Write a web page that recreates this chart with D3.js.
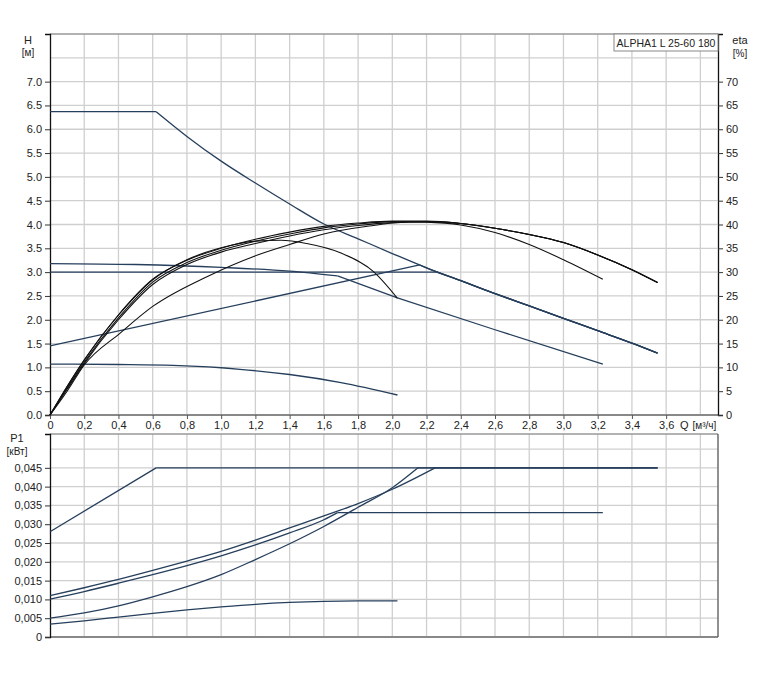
<!DOCTYPE html>
<meta charset="utf-8">
<script src="https://d3js.org/d3.v7.min.js"></script>
<body style="margin:0;background:#fff">
    <div id="viz"></div>
</body>
<style>
    text { font-family: "Liberation Sans", Arial, sans-serif; font-size: 11px; fill: #222; }
</style>
<script>
    // ---- data ----
    const qTicks = [0, 0.2, 0.4, 0.6, 0.8, 1.0, 1.2, 1.4, 1.6, 1.8, 2.0, 2.2, 2.4, 2.6, 2.8, 3.0, 3.2, 3.4, 3.6];
    const qGrid = [0.2, 0.4, 0.6, 0.8, 1.0, 1.2, 1.4, 1.6, 1.8, 2.0, 2.2, 2.4, 2.6, 2.8, 3.0, 3.2, 3.4, 3.6, 3.8];
    const hTicks = [0, 0.5, 1, 1.5, 2, 2.5, 3, 3.5, 4, 4.5, 5, 5.5, 6, 6.5, 7];
    const hGrid = [0.5, 1, 1.5, 2, 2.5, 3, 3.5, 4, 4.5, 5, 5.5, 6, 6.5, 7, 7.5];
    const etaTicks = [0, 5, 10, 15, 20, 25, 30, 35, 40, 45, 50, 55, 60, 65, 70];
    const pTicks = [0, 0.005, 0.010, 0.015, 0.020, 0.025, 0.030, 0.035, 0.040, 0.045];
    const pGrid = [0.005, 0.010, 0.015, 0.020, 0.025, 0.030, 0.035, 0.040, 0.045, 0.050];

    // H curves [Q, H] – each curve is a list of segments (kinks between segments)
    const maxTail = [[2.4, 2.82], [2.6, 2.55], [2.8, 2.29], [3.0, 2.03], [3.2, 1.77], [3.4, 1.51], [3.55, 1.30]];
    const hMax = [
        [[0, 6.37], [0.62, 6.37]],
        [[0.62, 6.37], [0.8, 5.85], [1.0, 5.33], [1.2, 4.87], [1.4, 4.43], [1.6, 4.01], [1.8, 3.70], [2.0, 3.39], [2.2, 3.09]].concat(maxTail)
    ];
    const hConst = [
        [[0, 3.0], [2.26, 3.0]],
        [[2.26, 3.0]].concat(maxTail)
    ];
    const hProp = [
        [[0, 1.45], [2.16, 3.15]],
        [[2.16, 3.15], [2.2, 3.09]].concat(maxTail)
    ];
    const hMid = [
        [[0, 3.18], [0.5, 3.16], [1.0, 3.10], [1.4, 3.02], [1.68, 2.92]],
        [[1.68, 2.92], [2.03, 2.46]],
        [[2.03, 2.46], [2.6, 1.79], [3.23, 1.07]]
    ];
    const hLow = [
        [[0, 1.07], [0.4, 1.06], [0.72, 1.04], [1.11, 0.96], [1.4, 0.85], [1.7, 0.68], [2.03, 0.42]]
    ];

    // eta curves [Q, %]
    const etaTail = [[2.4, 40.2], [2.6, 39.2], [2.8, 37.9], [3.0, 36.2], [3.2, 33.6], [3.4, 30.5], [3.55, 27.8]];
    const etaMax = [[0, 0], [0.1, 6], [0.2, 11.5], [0.4, 21], [0.6, 28.5], [0.8, 32.5], [1.0, 35], [1.2, 36.9], [1.4, 38.4], [1.6, 39.6], [1.8, 40.3], [2.0, 40.7], [2.2, 40.7]].concat(etaTail);
    const etaConst = [[0, 0], [0.1, 5.4], [0.2, 10.8], [0.4, 20.0], [0.6, 27.4], [0.8, 31.6], [1.0, 34.2], [1.2, 36.0], [1.4, 37.6], [1.6, 38.9], [1.8, 39.8], [2.0, 40.4], [2.2, 40.6]].concat(etaTail);
    const etaProp = [[0, 0], [0.1, 5], [0.2, 10.5], [0.41, 17.2], [0.6, 22.8], [0.92, 29.1], [1.19, 33.3], [1.4, 35.8], [1.6, 38.0], [1.89, 39.8], [2.0, 40.3], [2.2, 40.6]].concat(etaTail);
    const etaMid = [[0, 0], [0.1, 5.7], [0.2, 11.1], [0.4, 20.4], [0.6, 27.9], [0.8, 32.0], [1.0, 34.6], [1.2, 36.5], [1.4, 38.0], [1.6, 39.3], [1.8, 40.1], [2.0, 40.6], [2.2, 40.5], [2.4, 39.9], [2.6, 38.3], [2.8, 35.8], [3.0, 32.6], [3.23, 28.5]];
    const etaLow = [[0, 0], [0.1, 6], [0.2, 11.6], [0.4, 21.0], [0.6, 28.4], [0.8, 32.6], [1.0, 35.1], [1.2, 36.5], [1.35, 36.7], [1.5, 36.0], [1.7, 34.0], [1.89, 30.1], [2.03, 24.5]];

    // P1 curves [Q, kW]
    const pMax = [
        [[0, 0.028], [0.62, 0.045]],
        [[0.62, 0.045], [3.55, 0.045]]
    ];
    const pConst = [
        [[0, 0.0110], [0.2, 0.0131], [0.4, 0.0153], [0.6, 0.0177], [0.8, 0.0202], [1.0, 0.0228], [1.2, 0.0258], [1.4, 0.0290], [1.6, 0.0322], [1.8, 0.0355], [2.0, 0.0393], [2.25, 0.0450]],
        [[2.25, 0.045], [3.55, 0.045]]
    ];
    const pProp = [
        [[0, 0.0050], [0.2, 0.0064], [0.4, 0.0083], [0.6, 0.0107], [0.8, 0.0134], [1.0, 0.0166], [1.2, 0.0206], [1.4, 0.0248], [1.6, 0.0294], [1.8, 0.0345], [2.0, 0.0397], [2.15, 0.0450]],
        [[2.15, 0.045], [3.55, 0.045]]
    ];
    const pMid = [
        [[0, 0.0101], [0.2, 0.0121], [0.4, 0.0143], [0.6, 0.0166], [0.8, 0.0190], [1.0, 0.0216], [1.2, 0.0245], [1.4, 0.0277], [1.6, 0.0312], [1.68, 0.0331]],
        [[1.68, 0.0331], [3.23, 0.0331]]
    ];
    const pLow = [
        [[0, 0.0034], [0.2, 0.0043], [0.4, 0.0053], [0.6, 0.0063], [0.8, 0.0072], [1.0, 0.0080], [1.2, 0.0087], [1.4, 0.0092], [1.6, 0.0095], [1.8, 0.0096], [2.03, 0.0096]]
    ];

    const hColor = "#263f5c", etaColor = "#111";

    // ---- layout ----
    const W = 772, H = 676;
    const svg = d3.select("#viz").append("svg").attr("width", W).attr("height", H);

    const x = d3.scaleLinear().domain([0, 3.9]).range([50, 717.5]);
    const yH = d3.scaleLinear().domain([0, 8]).range([415, 34]);
    const yEta = d3.scaleLinear().domain([0, 80]).range([415, 34]);
    const yP = d3.scaleLinear().domain([0, 0.054]).range([637, 434]);

    // decimal comma, zero shown as "0"
    const commaFmt = f => d => d === 0 ? "0" : d3.format(f)(d).replace(".", ",");

    // grids
    function grid(yScale, yVals) {
        const g = svg.append("g");
        g.selectAll(".vx").data(qGrid).enter().append("line")
            .attr("x1", d => x(d)).attr("x2", d => x(d))
            .attr("y1", yScale.range()[0]).attr("y2", yScale.range()[1])
            .style("stroke", "#cfcfcf").style("stroke-width", 1.3);
        g.selectAll(".hy").data(yVals).enter().append("line")
            .attr("x1", x.range()[0]).attr("x2", x.range()[1])
            .attr("y1", d => yScale(d)).attr("y2", d => yScale(d))
            .style("stroke", "#cfcfcf").style("stroke-width", 1.3);
        // frame
        g.append("line").attr("x1", 50).attr("x2", 718).attr("y1", yScale.range()[1]).attr("y2", yScale.range()[1])
            .style("stroke", "#999").style("stroke-width", 1.3);
        g.append("line").attr("x1", 50).attr("x2", 718).attr("y1", yScale.range()[0]).attr("y2", yScale.range()[0])
            .style("stroke", "#888").style("stroke-width", 2.2);
        return g;
    }
    grid(yH, hGrid);
    grid(yP, pGrid);

    // axes
    const axH = svg.append("g").attr("transform", "translate(50,0)")
        .call(d3.axisLeft(yH).tickValues(hTicks).tickSize(5).tickFormat(d3.format(".1f")));
    const axEta = svg.append("g").attr("transform", "translate(718,0)")
        .call(d3.axisRight(yEta).tickValues(etaTicks).tickSize(5).tickFormat(d3.format("d")));
    const axQ = svg.append("g").attr("transform", "translate(0,415)")
        .call(d3.axisBottom(x).tickValues(qTicks).tickSize(4).tickFormat(commaFmt(".1f")));
    const axP = svg.append("g").attr("transform", "translate(50,0)")
        .call(d3.axisLeft(yP).tickValues(pTicks).tickSize(5).tickFormat(commaFmt(".3f")));
    svg.append("line").attr("x1", 718).attr("x2", 718).attr("y1", 434).attr("y2", 637)
        .style("stroke", "#555").style("stroke-width", 1.3);

    [axH, axEta, axP].forEach(a => {
        a.selectAll(".tick text").style("font-size", "11px").attr("fill", "#222");
        a.selectAll(".tick line").attr("stroke", "#333");
        a.select(".domain").attr("stroke", "#111").attr("stroke-width", 1.3);
    });
    axQ.select(".domain").remove();
    axQ.selectAll(".tick line").attr("stroke", "#555");
    axQ.selectAll(".tick text").style("font-size", "11px").attr("fill", "#222").attr("dy", "0.6em");

    // axis titles
    svg.append("text").attr("x", 28).attr("y", 44).attr("text-anchor", "middle").text("H");
    svg.append("text").attr("x", 28).attr("y", 56).attr("text-anchor", "middle").style("font-size", "10px").text("[м]");
    svg.append("text").attr("x", 740).attr("y", 44).attr("text-anchor", "middle").text("eta");
    svg.append("text").attr("x", 740).attr("y", 57).attr("text-anchor", "middle").style("font-size", "10px").text("[%]");
    svg.append("text").attr("x", 17).attr("y", 442).attr("text-anchor", "middle").text("P1");
    svg.append("text").attr("x", 17).attr("y", 455).attr("text-anchor", "middle").style("font-size", "10px").text("[кВт]");
    svg.append("text").attr("x", 680).attr("y", 429).text("Q").append("tspan").attr("dx", 4).style("font-size", "10px").text("[м³/ч]");

    // title box
    svg.append("rect").attr("x", 614).attr("y", 34).attr("width", 104).attr("height", 17)
        .style("fill", "#fff").style("stroke", "#888");
    svg.append("text").attr("x", 666).attr("y", 46.5).attr("text-anchor", "middle")
        .style("font-size", "10.5px").text("ALPHA1 L 25-60 180");

    // curves
    function draw(segments, yScale, color, w) {
        const line = d3.line().x(d => x(d[0])).y(d => yScale(d[1])).curve(d3.curveMonotoneX);
        svg.append("g").selectAll("path").data(segments).enter().append("path")
            .attr("d", line).style("fill", "none").style("stroke", color).style("stroke-width", w);
    }
    [hMax, hConst, hProp, hMid, hLow].forEach(c => draw(c, yH, hColor, 1.3));
    [etaMax, etaConst, etaProp, etaMid, etaLow].forEach(c => draw([c], yEta, etaColor, 1.1));
    [pMax, pConst, pProp, pMid, pLow].forEach(c => draw(c, yP, hColor, 1.3));
</script>
